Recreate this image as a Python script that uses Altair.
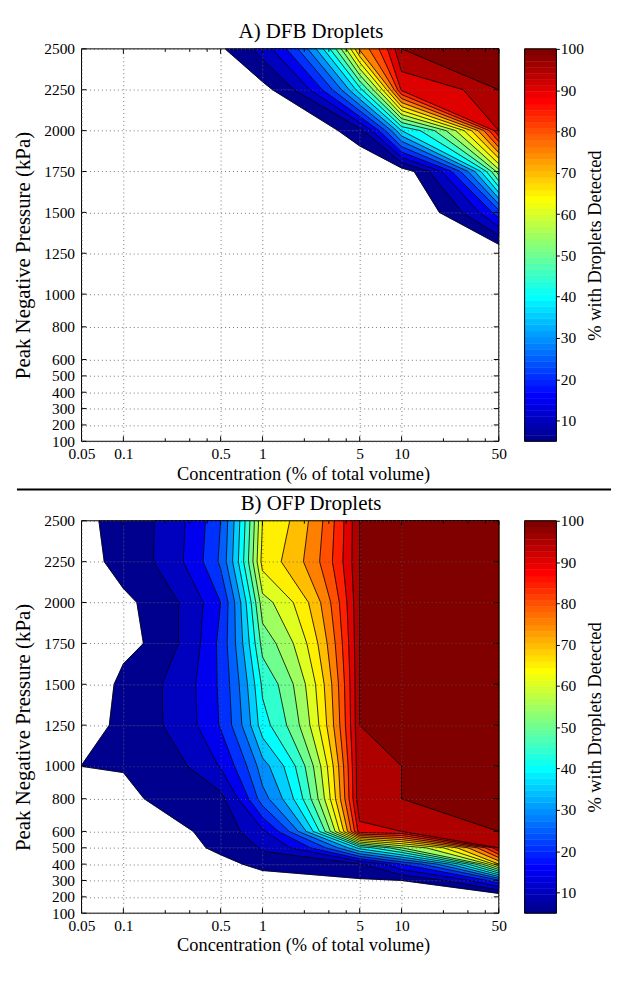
import numpy as np
import pandas as pd
import altair as alt

alt.data_transformers.disable_max_rows()

# ---------------- data ----------------
conc = [0.05, 0.1, 0.5, 1, 5, 10, 50]
pressure = [100, 200, 300, 400, 500, 600, 800, 1000, 1250, 1500, 1750, 2000, 2250, 2500]

# % with droplets detected; one row per pressure (100 kPa first), one column per concentration
dfb_pct = [
    [0, 0, 0, 0, 0, 0, 0],
    [0, 0, 0, 0, 0, 0, 0],
    [0, 0, 0, 0, 0, 0, 0],
    [0, 0, 0, 0, 0, 0, 0],
    [0, 0, 0, 0, 0, 0, 0],
    [0, 0, 0, 0, 0, 0, 0],
    [0, 0, 0, 0, 0, 0, 0],
    [0, 0, 0, 0, 0, 0, 0],
    [0, 0, 0, 0, 0, 0, 0],
    [0, 0, 0, 0, 0, 0, 23],
    [0, 0, 0, 0, 0, 1.75, 58],
    [0, 0, 0, 0, 8, 40, 95],
    [0, 0, 0, 3.2, 43, 91, 100],
    [0, 0, 4.4, 12.3, 76, 100, 100],
]
ofp_pct = [
    [0, 0, 0, 0, 0, 0, 0],
    [0, 0, 0, 0, 0, 0, 0],
    [0, 0, 0, 0, 4.4, 5.0, 24],
    [0, 0, 2.5, 8.2, 9.5, 20, 70],
    [0, 0, 6.85, 10.5, 42, 55, 95],
    [0, 2, 7.5, 14, 93, 95, 100],
    [0, 4.6, 8.5, 28, 99.5, 100, 100],
    [5.05, 5.1, 15.5, 33, 99.5, 100, 100],
    [2.4, 6.85, 20.5, 43, 100, 100, 100],
    [0.5, 6.8, 21, 46, 100, 100, 100],
    [1, 3.2, 21.5, 52, 100, 100, 100],
    [2, 4.0, 20, 58, 100, 100, 100],
    [3.4, 6.9, 26, 67, 100, 100, 100],
    [4, 7, 25, 65, 100, 100, 100],
]

levels = [5, 10, 15, 20, 25, 30, 35, 40, 45, 50, 55, 60, 65, 70, 75, 80, 85, 90, 95, 100]
x_labels = [0.05, 0.1, 0.5, 1, 5, 10, 50]
x_minor = [0.2, 0.3, 0.4, 2, 3, 4, 20, 30, 40]
y_ticks = [100, 200, 300, 400, 500, 600, 800, 1000, 1250, 1500, 1750, 2000, 2250, 2500]
cbar_ticks = [10, 20, 30, 40, 50, 60, 70, 80, 90, 100]
cmin, cmax = 5, 100

# ---------------- styling ----------------
W, H = 420, 395
CB_W = 32
FONT = "Liberation Serif"
LBL = 15.5
TTL = 18.5


def jet(m=64):
    n = int(np.ceil(m / 4))
    u = np.concatenate([np.arange(1, n + 1) / n, np.ones(n - 1), np.arange(n, 0, -1) / n])
    g = int(np.ceil(n / 2)) - (1 if m % 4 == 1 else 0) + np.arange(1, len(u) + 1)
    r = g + n
    b = g - n
    J = np.zeros((m, 3))
    gk = g[g <= m]
    J[gk - 1, 1] = u[:len(gk)]
    rk = r[r <= m]
    J[rk - 1, 0] = u[:len(rk)]
    bk = b[b >= 1]
    J[bk - 1, 2] = u[len(u) - len(bk):]
    return J


JET = jet(64)


def hexc(c):
    return "#%02x%02x%02x" % tuple(int(round(v * 255)) for v in c)


def level_color(L):
    idx = int(np.floor((L - cmin) / (cmax - cmin) * 64))
    return hexc(JET[max(0, min(63, idx))])


EPS = 1e-9


def cross(a, b, L):
    t = (L - a[2]) / (b[2] - a[2])
    t = min(max(t, 0.0), 1.0)
    return (a[0] + t * (b[0] - a[0]), a[1] + t * (b[1] - a[1]))


def disp(p):
    return (np.log10(p[0]) * 140, p[1] * 0.165)


def area(poly):
    pts = [disp(p) for p in poly]
    s = 0.0
    for i in range(len(pts)):
        x1, y1 = pts[i]
        x2, y2 = pts[(i + 1) % len(pts)]
        s += x1 * y2 - x2 * y1
    return abs(s) / 2


def dedupe(poly):
    res = []
    for p in poly:
        if not res or abs(disp(p)[0] - disp(res[-1])[0]) > 1e-6 or abs(p[1] - res[-1][1]) > 1e-6:
            res.append(p)
    if len(res) > 1 and abs(disp(res[0])[0] - disp(res[-1])[0]) < 1e-6 and abs(res[0][1] - res[-1][1]) < 1e-6:
        res.pop()
    return res


def cell_polys(c, L):
    hi = [q[2] >= L - EPS for q in c]
    if not any(hi):
        return []
    if all(hi):
        return [[(q[0], q[1]) for q in c]]
    saddle = hi in ([True, False, True, False], [False, True, False, True])
    center = sum(q[2] for q in c) / 4
    if saddle and center < L - EPS:
        out = []
        for k in range(4):
            if hi[k]:
                out.append([cross(c[k - 1], c[k], L), (c[k][0], c[k][1]), cross(c[k], c[(k + 1) % 4], L)])
        return out
    poly = []
    for k in range(4):
        a, b = c[k], c[(k + 1) % 4]
        if hi[k]:
            poly.append((a[0], a[1]))
        if hi[k] != hi[(k + 1) % 4]:
            poly.append(cross(a, b, L))
    return [poly]


def cell_segs(c, L):
    hi = [q[2] >= L - EPS for q in c]
    if all(hi) or not any(hi):
        return []
    pts = {}
    for k in range(4):
        if hi[k] != hi[(k + 1) % 4]:
            pts[k] = cross(c[k], c[(k + 1) % 4], L)
    if len(pts) == 2:
        a, b = list(pts.values())
        return [(a, b)]
    center = sum(q[2] for q in c) / 4
    keep_low = center >= L - EPS
    segs = []
    for k in range(4):
        if (not hi[k]) == keep_low:
            segs.append((pts[(k - 1) % 4], pts[k]))
    return segs


def build(values, tag):
    V = np.array(values, float)
    cells = []
    for j in range(len(pressure) - 1):
        for i in range(len(conc) - 1):
            cells.append([
                (conc[i], pressure[j], V[j, i]),
                (conc[i + 1], pressure[j], V[j, i + 1]),
                (conc[i + 1], pressure[j + 1], V[j + 1, i + 1]),
                (conc[i], pressure[j + 1], V[j + 1, i]),
            ])
    prow, srow = [], []
    pid = 0
    for li, L in enumerate(levels):
        col = level_color(L)
        for c in cells:
            for poly in cell_polys(c, L):
                poly = dedupe(poly)
                if len(poly) >= 3 and area(poly) > 1e-3:
                    pp = poly + [poly[0]]
                    for m, q in enumerate(pp):
                        prow.append(dict(pid=f"{tag}{pid:05d}", k=m, x=q[0], y=q[1], col=col))
                    pid += 1
            for a, b in cell_segs(c, L):
                da, db = disp(a), disp(b)
                if abs(da[0] - db[0]) + abs(da[1] - db[1]) > 1e-6:
                    srow.append(dict(x=a[0], y=a[1], x2=b[0], y2=b[1]))
    return pd.DataFrame(prow), pd.DataFrame(srow)


dummy = pd.DataFrame({"a": [0]})

XS = alt.Scale(type="log", domain=[0.05, 50], nice=False)
YS = alt.Scale(domain=[100, 2500], nice=False, zero=False)
XAXIS = alt.Axis(values=x_labels, format="~g", title="Concentration (% of total volume)",
                 grid=True, gridColor="#555555", gridDash=[1, 3], gridOpacity=0.8,
                 ticks=False, domain=False, labelFlush=False, labelOverlap=False,
                 labelPadding=5, labelFontSize=LBL, titleFontSize=TTL,
                 titleFontWeight="normal", titleX=223, titleY=32,
                 titleBaseline="middle", titleAlign="center", zindex=1)
YAXIS = alt.Axis(values=y_ticks, format="d", title="Peak Negative Pressure (kPa)",
                 grid=True, gridColor="#555555", gridDash=[1, 3], gridOpacity=0.8,
                 ticks=False, domain=False, labelFlush=False, labelOverlap=False,
                 labelPadding=7, labelFontSize=LBL, titleFontSize=21,
                 titleFontWeight="normal", titleX=-58, titleY=H / 2 + 10, titleAngle=270,
                 titleBaseline="middle", titleAlign="center", zindex=1)


def X(field="x"):
    return alt.X(f"{field}:Q", scale=XS, axis=XAXIS)


def Y(field="y"):
    return alt.Y(f"{field}:Q", scale=YS, axis=YAXIS)


def panel(values, tag, title, with_sep):
    pdf, sdf = build(values, tag)
    fills = alt.Chart(pdf).mark_line(strokeWidth=0.6, interpolate="linear").encode(
        x=X(), y=Y(),
        detail="pid:N",
        order="k:Q",
        fill=alt.Fill("col:N", scale=None),
        stroke=alt.Stroke("col:N", scale=None),
    )
    lines = alt.Chart(sdf).mark_rule(color="black", strokeWidth=0.8).encode(
        x=X(), x2="x2:Q", y=Y(), y2="y2:Q",
    )
    layers = [fills, lines]
    xt_major = pd.DataFrame({"x": x_labels})
    xt_minor = pd.DataFrame({"x": x_minor})
    for df_, ln in ((xt_major, 5), (xt_minor, 3)):
        base = alt.Chart(df_).mark_rule(color="black", strokeWidth=1)
        layers.append(base.encode(x=X(), y=alt.value(H), y2=alt.value(H - ln)))
        layers.append(base.encode(x=X(), y=alt.value(0), y2=alt.value(ln)))
    yt = pd.DataFrame({"y": y_ticks})
    base = alt.Chart(yt).mark_rule(color="black", strokeWidth=1)
    layers.append(base.encode(y=Y(), x=alt.value(0), x2=alt.value(5)))
    layers.append(base.encode(y=Y(), x=alt.value(W - 5), x2=alt.value(W)))
    frame = alt.Chart(dummy).mark_rect(fillOpacity=0, stroke="black", strokeWidth=1).encode(
        x=alt.value(0), x2=alt.value(W), y=alt.value(0), y2=alt.value(H))
    layers.append(frame)
    ttl = alt.Chart(pd.DataFrame({"t": [title]})).mark_text(
        font=FONT, fontSize=21, baseline="alphabetic", align="center", color="black", clip=False
    ).encode(text="t:N", x=alt.value(231), y=alt.value(-11))
    layers.append(ttl)
    if with_sep:
        sep = alt.Chart(dummy).mark_rule(color="black", strokeWidth=2, clip=False).encode(
            x=alt.value(-65), x2=alt.value(533), y=alt.value(443.5))
        layers.append(sep)
    return alt.layer(*layers).properties(width=W, height=H)


def colorbar():
    lo = [cmin + i * (cmax - cmin) / 64 for i in range(64)]
    hi = lo[1:] + [cmax]
    cdf = pd.DataFrame({"lo": lo, "hi": hi, "col": [hexc(c) for c in JET]})
    cs = alt.Scale(domain=[cmin, cmax], nice=False, zero=False)
    cax = alt.Axis(
        orient="right", values=cbar_ticks, title="% with Droplets Detected",
        ticks=True, tickSize=3, tickColor="black", domain=False, grid=False,
        labelPadding=1, labelFontSize=LBL, labelFlush=False, labelOverlap=False,
        titleFontSize=TTL, titleFontWeight="normal", titleAngle=270,
        titleX=38, titleY=H / 2, titleBaseline="middle", titleAlign="center")
    bar = alt.Chart(cdf).mark_rect(strokeWidth=0.5).encode(
        x=alt.value(0), x2=alt.value(CB_W),
        y=alt.Y("lo:Q", scale=cs, axis=cax),
        y2="hi:Q",
        fill=alt.Fill("col:N", scale=None),
        stroke=alt.Stroke("col:N", scale=None),
    )
    frame = alt.Chart(dummy).mark_rect(fillOpacity=0, stroke="black", strokeWidth=1).encode(
        x=alt.value(0), x2=alt.value(CB_W), y=alt.value(0), y2=alt.value(H))
    return alt.layer(bar, frame).properties(width=CB_W, height=H)


chart = alt.concat(
    panel(dfb_pct, "a", "A) DFB Droplets", True), colorbar(),
    panel(ofp_pct, "b", "B) OFP Droplets", False), colorbar(),
    columns=2, spacing={"row": 80, "column": 26}, bounds="flush",
).properties(
    padding={"left": 5, "top": 10, "right": 4, "bottom": 4}
).configure(font=FONT).configure_view(stroke=None).configure_axis(
    labelFont=FONT, titleFont=FONT, labelColor="black", titleColor="black"
)

chart.save("out.html", embed_options={"renderer": "svg", "actions": False})
